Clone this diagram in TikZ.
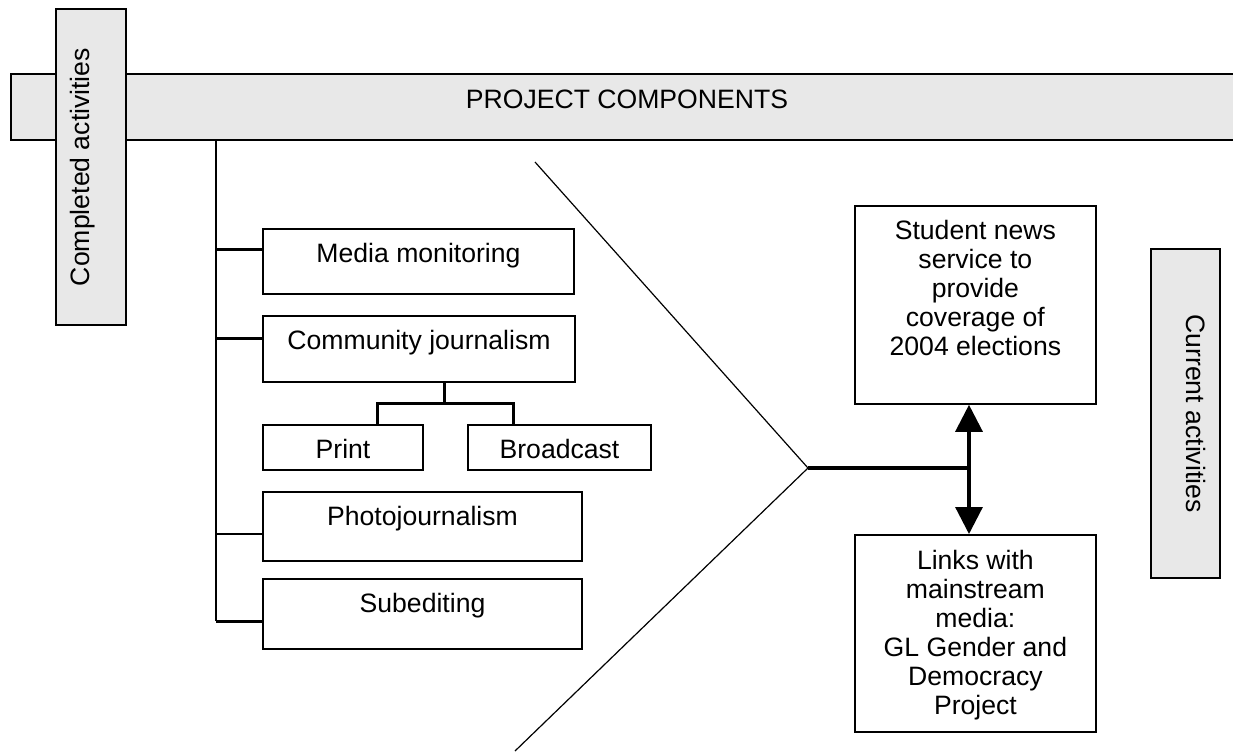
\documentclass[tikz,border=0pt]{standalone}
\usepackage{fontspec}
\setmainfont{Liberation Sans}
\usetikzlibrary{positioning,arrows.meta}
\definecolor{panelgray}{RGB}{232,232,232}

\begin{document}
\begin{tikzpicture}[x=0.5pt,y=-0.5pt,
    font=\fontsize{13.3}{14.5}\selectfont,
    panel/.style={draw, line width=1pt, fill=panelgray, text height=17pt, inner ysep=0pt},
    itembox/.style 2 args={draw, line width=1pt, minimum width=#1, text height=16.5pt,
      text depth=#2, inner ysep=0pt, anchor=north west},
    outbox/.style={draw, line width=0.9pt, minimum width=120.5pt, inner sep=0pt, anchor=north west},
    outtext/.style={align=center, inner sep=0pt},
    branch/.style={line width=1.5pt},
    twoway/.style={line width=1.6pt,
      {Triangle[length=13.5pt,width=13.5pt]}-{Triangle[length=13.5pt,width=13.5pt]}}]

      \useasboundingbox (0,0) rectangle (1233,751);

      % header bar and side panels
      \node (bar) [panel, minimum width=616pt, text depth=16pt] at (627,107) {PROJECT COMPONENTS};
      \node (done) [panel, rotate=90, minimum width=158pt, text depth=18pt] at (91,167) {Completed activities};
      \node (now) [panel, rotate=-90, minimum width=164.5pt, text depth=17.5pt] at (1185.5,413.5) {Current activities};

      % completed activities
      \node (media) [itembox={155.5pt}{16pt}] at (262,228) {Media monitoring};
      \node (comm) [itembox={156pt}{16.5pt}] at (262,315) {Community journalism};
      \node (print) [itembox={80pt}{6pt}] at (262,424) {Print};
      \node (bcast) [itembox={91.5pt}{6pt}] at (467,424) {Broadcast};
      \node (photo) [itembox={159.5pt}{18pt}] at (262,491) {Photojournalism};
      \node (subed) [itembox={159.5pt}{18.5pt}] at (262,578) {Subediting};

      % trunk
      \path (216,140) coordinate (trunktop) (216,621) coordinate (trunkend);
      \draw[line width=1pt] (trunktop) to (trunkend);
      \foreach \y/\n in {249/media,338/comm,621/subed}
      { \path (216,\y) coordinate (br\n); \draw[branch] (br\n) to (br\n -| \n.west); }
      \path (216,534) coordinate (brphoto);
      \draw[line width=1pt] (brphoto) to (brphoto -| photo.west);

      % print and broadcast
      \path (444,403) coordinate (split);
      \draw[branch] (split |- comm.south) to (split);
      \draw[branch] ([xshift=17pt]print.north) |- (split) -| ([xshift=-23.25pt]bcast.north);

      % current activities
      \node (stu) [outbox, minimum height=99pt] at (854,205) {};
      \node (stutext) [outtext, below=7.3pt of stu.north]
        {Student news\\service to\\provide\\coverage of\\2004 elections};
      \node (links) [outbox, minimum height=98.5pt] at (854,534) {};
      \node (linkstext) [outtext, below=8pt of links.north]
        {Links with\\mainstream\\media:\\GL Gender and\\Democracy\\Project};

      % funnel
      \path (535,162) coordinate (vtop) (808,468) coordinate (vertex)
            (515,751) coordinate (vbot) (969,468) coordinate (hub);
      \draw[line width=0.6pt] (vtop) to (vertex) to (vbot);
      \draw[line width=1.6pt] (vertex) to (hub);
      \draw[twoway] (stu.south -| hub) to (links.north -| hub);
    \end{tikzpicture}
\end{document}
